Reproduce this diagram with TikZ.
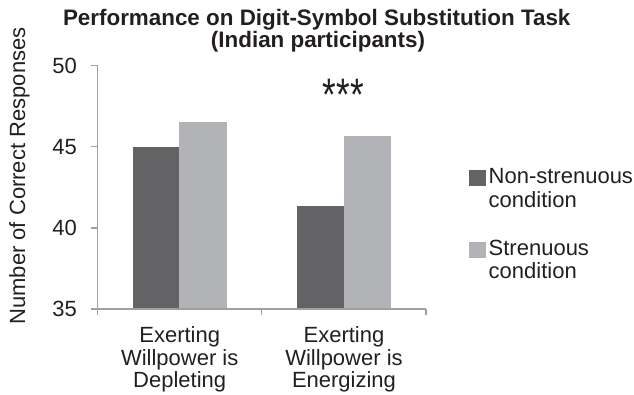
\documentclass[tikz,border=0pt]{standalone}
\usepackage{fontspec}
\setmainfont{Liberation Sans}
\definecolor{darkbar}{RGB}{99,99,101}
\definecolor{lightbar}{RGB}{178,179,182}
\definecolor{axisc}{RGB}{160,160,160}
\definecolor{textc}{RGB}{35,31,32}
\begin{document}
\begin{tikzpicture}[x=1pt,y=-1pt,
  txt/.style={font=\fontsize{22}{26}\selectfont, text=textc, inner sep=0pt},
  ttl/.style={font=\fontsize{22.4}{26}\selectfont\bfseries, text=textc, inner sep=0pt, anchor=base},
  axisline/.style={draw=axisc, line width=1.2pt},
  darkfill/.style={fill=darkbar},
  lightfill/.style={fill=lightbar}]
\useasboundingbox (0,0) rectangle (634,394);
% bars
\fill[darkfill] (132.7,309) rectangle (179,147.3);
\fill[lightfill] (179,309) rectangle (226.7,121.7);
\fill[darkfill] (297.3,309) rectangle (344,205.7);
\fill[lightfill] (344,309) rectangle (391,135.7);
% axes
\coordinate (ytop) at (97.7,65.7);
\coordinate (origin) at (97.7,309);
\coordinate (xend) at (426,309);
\draw[axisline] (ytop) -- (origin) -- (xend);
\foreach \y in {65.7,146.8,227.9,309} \draw[axisline] (90.7,\y) -- (97.7,\y);
\foreach \x in {97.7,261.8,426} \draw[axisline] (\x,309) -- (\x,314.5);
% tick labels
\node[txt, anchor=east] (l50) at (77,65.7) {50};
\node[txt, anchor=east] (l45) at (77,146.8) {45};
\node[txt, anchor=east] (l40) at (77,227.9) {40};
\node[txt, anchor=east] (l35) at (77,309) {35};
% y label
\node[txt, rotate=90, anchor=base] (ylab) at (25,176) {Number of Correct Responses};
% title
\node[ttl] (t1) at (316.7,25.3) {Performance on Digit-Symbol Substitution Task};
\node[ttl] (t2) at (318,47) {(Indian participants)};
% significance
\node[txt, font=\fontsize{35}{40}\selectfont, yscale=1.3] (stars) at (343.4,95) {***};
% category labels
\node[txt, anchor=base] (c1a) at (179.7,342.5) {Exerting};
\node[txt, anchor=base] (c1b) at (179.7,365) {Willpower is};
\node[txt, anchor=base] (c1c) at (179.7,387.5) {Depleting};
\node[txt, anchor=base] (c2a) at (344,342.5) {Exerting};
\node[txt, anchor=base] (c2b) at (344,365) {Willpower is};
\node[txt, anchor=base] (c2c) at (344,387.5) {Energizing};
% legend
\fill[darkfill] (469.3,169.5) rectangle (485.5,185.7);
\fill[lightfill] (469.3,241.7) rectangle (485.5,257.5);
\node[txt, anchor=base west] (leg1a) at (488.5,183.7) {Non-strenuous};
\node[txt, anchor=base west] (leg1b) at (488.5,207.3) {condition};
\node[txt, anchor=base west] (leg2a) at (488.5,255) {Strenuous};
\node[txt, anchor=base west] (leg2b) at (488.5,278.3) {condition};
\end{tikzpicture}
\end{document}
